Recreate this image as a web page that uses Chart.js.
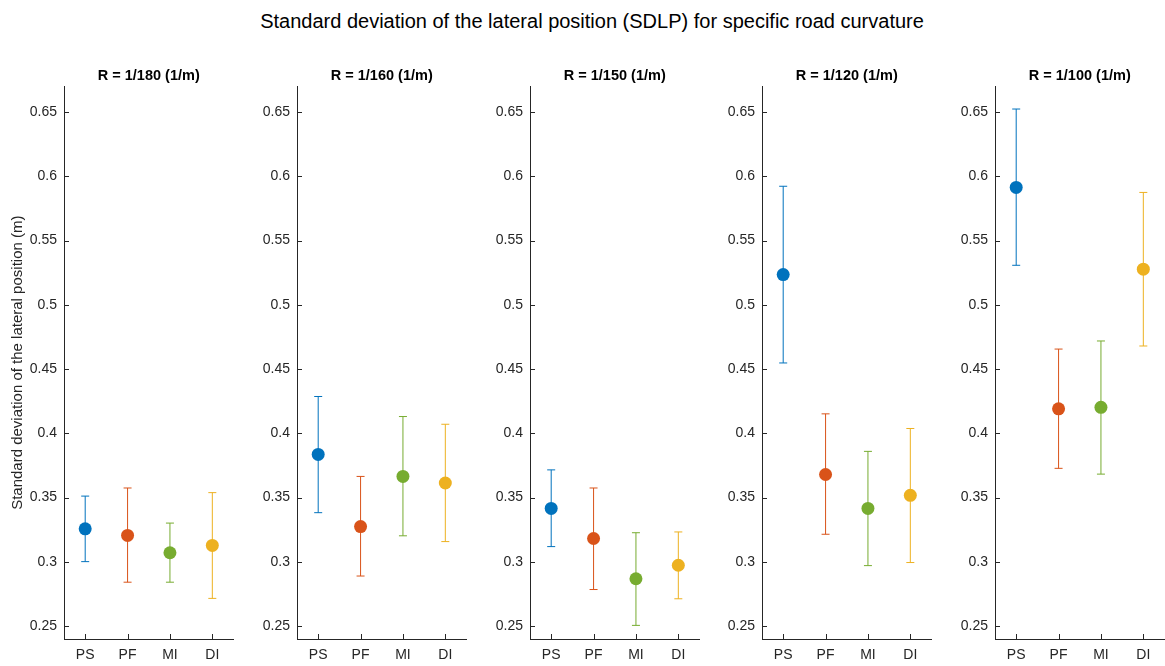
<!DOCTYPE html>
<html>
<head>
<meta charset="utf-8">
<script src="https://cdn.jsdelivr.net/npm/chart.js@4/dist/chart.umd.min.js"></script>
<style>
  html, body { margin: 0; padding: 0; background: #fff; width: 1165px; height: 666px; overflow: hidden; position: relative; font-family: "Liberation Sans", Arial, Helvetica, sans-serif; }
  #suptitle { position: absolute; left: 0; width: 1184px; top: 9px; text-align: center; font-size: 20px; line-height: 24px; color: #000; white-space: nowrap; }
  canvas.panel { position: absolute; top: 60px; }
</style>
</head>
<body>
<div id="suptitle">Standard deviation of the lateral position (SDLP) for specific road curvature</div>
<script>
// Participant groups (x categories) and their colours
const groups = ['PS', 'PF', 'MI', 'DI'];
const groupColors = ['#0072BD', '#D95319', '#77AC30', '#EDB120'];

// Road curvature panels
const curvatures = ['R = 1/180 (1/m)', 'R = 1/160 (1/m)', 'R = 1/150 (1/m)', 'R = 1/120 (1/m)', 'R = 1/100 (1/m)'];

// SDLP (m): mean, lower and upper end of the error bar for each curvature
const mean180 = [0.3257, 0.3206, 0.3071, 0.3128];
const low180  = [0.3002, 0.2842, 0.2842, 0.2716];
const high180 = [0.3512, 0.3575, 0.3302, 0.3539];

const mean160 = [0.3836, 0.3275, 0.3665, 0.3614];
const low160  = [0.3383, 0.2890, 0.3203, 0.3158];
const high160 = [0.4287, 0.3665, 0.4131, 0.4071];

const mean150 = [0.3416, 0.3182, 0.2869, 0.2974];
const low150  = [0.3119, 0.2785, 0.2506, 0.2713];
const high150 = [0.3716, 0.3575, 0.3227, 0.3233];

const mean120 = [0.5236, 0.3680, 0.3416, 0.3518];
const low120  = [0.4548, 0.3215, 0.2971, 0.2995];
const high120 = [0.5923, 0.4152, 0.3860, 0.4038];

const mean100 = [0.5914, 0.4191, 0.4203, 0.5278];
const low100  = [0.5308, 0.3728, 0.3683, 0.4680];
const high100 = [0.6524, 0.4656, 0.4719, 0.5875];

// Y axis
const yTicks = [0.25, 0.3, 0.35, 0.4, 0.45, 0.5, 0.55, 0.6, 0.65];
const yMin = 0.24, yMax = 0.67;
const yLabel = 'Standard deviation of the lateral position (m)';

const panelData = [
  [mean180, low180, high180],
  [mean160, low160, high160],
  [mean150, low150, high150],
  [mean120, low120, high120],
  [mean100, low100, high100]
];

const FONT = '"Liberation Sans", Arial, Helvetica, sans-serif';
const AXIS = '#262626';
const panelLeft = [0, 233, 466, 698, 931];

// Vertical error bars with caps, drawn under the markers
const errorBars = {
  id: 'errorBars',
  beforeDatasetsDraw(chart, args, opts) {
    const ctx = chart.ctx, xs = chart.scales.x, ys = chart.scales.y;
    ctx.save();
    ctx.lineWidth = 1;
    opts.low.forEach((lo, i) => {
      const x = xs.getPixelForValue(i);
      const y1 = ys.getPixelForValue(lo);
      const y2 = ys.getPixelForValue(opts.high[i]);
      ctx.strokeStyle = groupColors[i];
      ctx.beginPath();
      ctx.moveTo(x, y1); ctx.lineTo(x, y2);
      ctx.moveTo(x - 4, y1); ctx.lineTo(x + 4, y1);
      ctx.moveTo(x - 4, y2); ctx.lineTo(x + 4, y2);
      ctx.stroke();
    });
    ctx.restore();
  }
};

// Short tick marks pointing into the plot area
const innerTicks = {
  id: 'innerTicks',
  afterDraw(chart) {
    const ctx = chart.ctx, xs = chart.scales.x, ys = chart.scales.y, a = chart.chartArea;
    ctx.save();
    ctx.strokeStyle = AXIS;
    ctx.lineWidth = 1;
    ctx.beginPath();
    yTicks.forEach(v => {
      const y = Math.round(ys.getPixelForValue(v)) + 0.5;
      ctx.moveTo(a.left, y); ctx.lineTo(a.left + 5, y);
    });
    groups.forEach((g, i) => {
      const x = Math.round(xs.getPixelForValue(i)) + 0.5;
      ctx.moveTo(x, a.bottom); ctx.lineTo(x, a.bottom - 5);
    });
    ctx.stroke();
    ctx.restore();
  }
};

curvatures.forEach((name, p) => {
  const [mean, low, high] = panelData[p];
  const canvas = document.createElement('canvas');
  canvas.className = 'panel';
  canvas.width = 240;
  canvas.height = 606;
  canvas.style.left = panelLeft[p] + 'px';
  canvas.style.width = '240px';
  canvas.style.height = '606px';
  document.body.appendChild(canvas);

  new Chart(canvas, {
    type: 'line',
    data: {
      labels: groups,
      datasets: [{
        data: mean,
        showLine: false,
        pointRadius: 6.5,
        pointHoverRadius: 6.5,
        pointBorderWidth: 0,
        pointBackgroundColor: groupColors,
        pointBorderColor: groupColors
      }]
    },
    options: {
      responsive: false,
      animation: false,
      events: [],
      layout: { padding: 0 },
      plugins: {
        legend: { display: false },
        tooltip: { enabled: false },
        title: {
          display: true,
          fullSize: false,
          text: name,
          color: '#000',
          font: { family: FONT, size: 14.5, weight: 'bold' },
          padding: { top: 7, bottom: 2 }
        },
        errorBars: { low: low, high: high }
      },
      scales: {
        x: {
          type: 'category',
          offset: true,
          grid: { display: false, drawTicks: false },
          border: { display: true, color: AXIS, width: 1 },
          ticks: { color: AXIS, font: { family: FONT, size: 14 }, padding: 8, maxRotation: 0, autoSkip: false },
          afterFit(s) { s.height = 27; }
        },
        y: {
          min: yMin,
          max: yMax,
          grid: { display: false, drawTicks: false },
          border: { display: true, color: AXIS, width: 1 },
          ticks: { color: AXIS, font: { family: FONT, size: 14 }, padding: 7, callback: v => String(v) },
          afterBuildTicks(s) { s.ticks = yTicks.map(v => ({ value: v })); },
          afterFit(s) { s.width = 64; },
          title: {
            display: p === 0,
            text: yLabel,
            color: AXIS,
            font: { family: FONT, size: 15 },
            padding: { top: 9, bottom: 0 }
          }
        }
      }
    },
    plugins: [errorBars, innerTicks]
  });
});
</script>
</body>
</html>
